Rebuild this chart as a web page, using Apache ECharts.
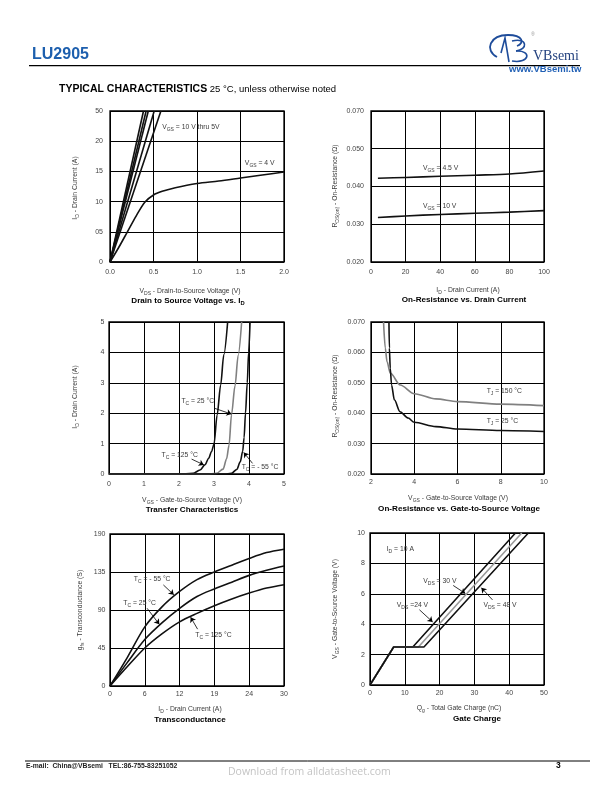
<!DOCTYPE html>
<html><head><meta charset="utf-8">
<script src="https://cdn.jsdelivr.net/npm/echarts@6/dist/echarts.min.js"></script>
<style>html,body{margin:0;padding:0;background:#fff}#c{width:612px;height:792px}</style>
</head><body><div id="c"></div>
<script>
// ---------------- data ----------------
// Chart 1: Drain to Source Voltage vs. ID
const c1XTicks = ['0.0','0.5','1.0','1.5','2.0'];
const c1YTicks = ['0','05','10','15','20','50'];
const c1Vgs10 = [[0,0],[0.385,25]];
const c1Vgs8  = [[0,0],[0.415,25]];
const c1Vgs7  = [[0,0],[0.44,25]];
const c1Vgs6  = [[0,0],[0.508,25]];
const c1Vgs5  = [[0,0],[0.585,25]];
const c1Vgs4  = [[0,0],[0.1,2.4],[0.2,5],[0.3,7.6],[0.4,9.9],[0.5,11.1],[0.6,11.7],[0.75,12.3],[1.0,13],[1.25,13.4],[1.5,13.9],[1.75,14.4],[2.0,14.9]];
const c1Vgs3  = [[0,0],[2.0,0]];
// Chart 2: On-Resistance vs. Drain Current
const c2XTicks = ['0','20','40','60','80','100'];
const c2YTicks = ['0.020','0.030','0.040','0.050','0.070'];
const c2Vgs45 = [[4,0.0422],[20,0.0424],[40,0.0427],[60,0.043],[80,0.0433],[100,0.0441]];
const c2Vgs10 = [[4,0.0318],[20,0.0322],[40,0.0326],[60,0.0329],[80,0.0332],[100,0.0336]];
// Chart 3: Transfer Characteristics
const c3XTicks = ['0','1','2','3','4','5'];
const c3YTicks = ['0','1','2','3','4','5'];
const c3Tc125 = [[0,0],[2.0,0],[2.4,0.02],[2.6,0.13],[2.74,0.3],[2.85,0.52],[2.93,0.74],[3.0,0.98],[3.09,1.95],[3.19,2.93],[3.28,3.92],[3.39,5]];
const c3Tc25  = [[0,0],[2.8,0],[3.07,0.02],[3.26,0.16],[3.36,0.5],[3.43,0.95],[3.5,1.95],[3.6,2.9],[3.69,3.9],[3.79,5]];
const c3TcM55 = [[0,0],[3.3,0],[3.5,0.02],[3.65,0.15],[3.75,0.4],[3.82,0.75],[3.86,1.2],[3.9,2.0],[3.95,3.0],[3.99,4.0],[4.03,5]];
// Chart 4: On-Resistance vs. Gate-to-Source Voltage
const c4XTicks = ['2','4','6','8','10'];
const c4YTicks = ['0.020','0.030','0.040','0.050','0.060','0.070'];
const c4Tj150 = [[2.58,0.07],[2.66,0.0614],[2.74,0.057],[2.89,0.0532],[3.35,0.0493],[4,0.0464],[5,0.0447],[6,0.0438],[8,0.043],[10,0.0425]];
const c4Tj25  = [[2.83,0.07],[2.85,0.0614],[2.89,0.0548],[2.95,0.0493],[3.08,0.0444],[3.34,0.0405],[3.72,0.0384],[4,0.037],[5,0.0356],[6,0.0348],[8,0.0343],[10,0.034]];
// Chart 5: Transconductance
const c5XTicks = ['0','6','12','19','24','30'];
const c5YTicks = ['0','45','90','135','190'];
const c5TcM55 = [[0,0],[3,34],[6,70],[9,94],[12,112],[15,126],[18,135],[21,143],[24,151],[27,158],[30,162]];
const c5Tc25  = [[0,0],[3,28],[6,55],[9,75],[12,92],[15,106],[18,115],[21,123],[24,131],[27,137],[30,142]];
const c5Tc125 = [[0,0],[3,23],[6,45],[9,62],[12,76],[15,86],[18,95],[21,103],[24,110],[27,116],[30,120]];
// Chart 6: Gate Charge
const c6XTicks = ['0','10','20','30','40','50'];
const c6YTicks = ['0','2','4','6','8','10'];
const c6Vds24 = [[0,0],[6.8,2.5],[12.3,2.5],[41.8,10]];
const c6Vds30 = [[0,0],[6.8,2.5],[13.9,2.5],[43.6,10]];
const c6Vds48 = [[0,0],[6.8,2.5],[15.5,2.5],[45.5,10]];

// ---------------- annotations ----------------
const sub = (a, s, b) => `{m|${a}}{s|${s}}` + (b ? `{m|${b}}` : '');
const c1Notes = [{at:[0.6,22.3], t:sub('V','GS',' = 10 V thru 5V')}, {at:[1.55,16.4], t:sub('V','GS',' = 4 V')}];
const c2Notes = [{at:[30,0.0449], t:sub('V','GS',' = 4.5 V')}, {at:[30,0.0348], t:sub('V','GS',' = 10 V')}];
const c3Notes = [{at:[2.07,2.41], t:sub('T','C',' = 25 °C')}, {at:[1.5,0.63], t:sub('T','C',' = 125 °C')}, {at:[3.79,0.21], t:sub('T','C',' = - 55 °C')}];
const c3Arrows = [[[3.02,2.16],[3.5,1.97]], [[2.36,0.49],[2.71,0.30]], [[4.1,0.35],[3.85,0.71]]];
const c4Notes = [{at:[7.35,0.0474], t:sub('T','J',' = 150 °C')}, {at:[7.35,0.0375], t:sub('T','J',' = 25 °C')}];
const c5Notes = [{at:[4.1,126.8], t:sub('T','C',' = - 55 °C')}, {at:[2.3,98], t:sub('T','C',' = 25 °C')}, {at:[14.7,60.6], t:sub('T','C',' = 125 °C')}];
const c5Arrows = [[[9.2,119.7],[11,108]], [[6.4,92],[8.5,73]], [[15.1,67.3],[13.9,81.5]]];
const c6Notes = [{at:[4.8,8.97], t:sub('I','D',' = 10 A')}, {at:[15.3,6.86], t:sub('V','DS',' = 30 V')}, {at:[7.7,5.27], t:sub('V','DS',' =24 V')}, {at:[32.6,5.27], t:sub('V','DS',' = 48 V')}];
const c6Arrows = [[[23.9,6.55],[27.4,6.02]], [[14.2,4.95],[18.0,4.15]], [[35.2,5.6],[32.0,6.4]]];

// ---------------- styling / build ----------------
const F = "'Liberation Sans', Arial, Helvetica, sans-serif";
const FN = "'Liberation Sans Narrow', 'Arial Narrow', 'Liberation Sans', sans-serif";
const TXT = '#3a3a3a';
const BLACK = '#111';
const GREY = '#808080';
const richL = {
  m: {fontSize: 6.8, lineHeight: 10, color: TXT, fontFamily: F},
  s: {fontSize: 5, lineHeight: 5, verticalAlign: 'bottom', color: TXT, fontFamily: F}
};
const richG = {
  m: {fontSize: 6.8, lineHeight: 10, fill: TXT, fontFamily: F},
  s: {fontSize: 5, lineHeight: 5, verticalAlign: 'bottom', fill: TXT, fontFamily: F},
  b: {fontSize: 8.1, lineHeight: 11, fill: '#000', fontFamily: FN, fontWeight: 'bold'},
  bs: {fontSize: 5.8, lineHeight: 6, verticalAlign: 'bottom', fill: '#000', fontFamily: FN, fontWeight: 'bold'}
};

const grids = [
  {left:110, top:111, width:174, height:151},
  {left:371, top:111, width:173, height:151},
  {left:109, top:322, width:175, height:152},
  {left:371, top:322, width:173, height:152},
  {left:110, top:534, width:174, height:152},
  {left:370, top:533, width:174, height:152}
].map(g => Object.assign({show:true, borderColor:'#000', borderWidth:1.3, containLabel:false, outerBoundsMode:'none'}, g));

function ax(idx, min, max, interval, labels, margin) {
  return {
    gridIndex: idx, type: 'value', min, max, interval,
    axisLine: {show: false}, axisTick: {show: false},
    splitLine: {show: true, lineStyle: {color: '#000', width: 1}},
    axisLabel: {fontSize: 7, color: '#444', fontFamily: F, margin,
      formatter: v => { const k = Math.round((v - min) / interval); return labels[k] !== undefined ? labels[k] : ''; }}
  };
}
const xAxes = [
  ax(0, 0, 2, 0.5, c1XTicks, 6.5),
  ax(1, 0, 100, 20, c2XTicks, 6.5),
  ax(2, 0, 5, 1, c3XTicks, 6.5),
  ax(3, 2, 10, 2, c4XTicks, 4.5),
  ax(4, 0, 30, 6, c5XTicks, 4.5),
  ax(5, 0, 50, 10, c6XTicks, 4.5)
];
const yAxes = [
  ax(0, 0, 25, 5, c1YTicks, 7),
  ax(1, 0.02, 0.06, 0.01, c2YTicks, 7),
  ax(2, 0, 5, 1, c3YTicks, 4.5),
  ax(3, 0.02, 0.07, 0.01, c4YTicks, 6),
  ax(4, 0, 180, 45, c5YTicks, 4.5),
  ax(5, 0, 10, 2, c6YTicks, 5)
];

// smooth: 0 = straight segments, 1 = plain smoothing, 2 = monotone-x smoothing
function line(idx, data, color, smooth) {
  const s = {type: 'line', xAxisIndex: idx, yAxisIndex: idx, data, showSymbol: false, symbol: 'none',
    smooth: smooth ? 0.3 : false,
    lineStyle: {color, width: 1.6}, silent: true, z: 3};
  if (smooth === 2) s.smoothMonotone = 'x';
  return s;
}
function addNotes(s, notes, arrows) {
  s.markPoint = {symbol: 'circle', symbolSize: 0, silent: true,
    label: {show: true, position: 'right', distance: 0, rich: richL},
    data: notes.map(n => ({coord: n.at, label: {show: true, position: 'right', distance: 0, formatter: n.t, rich: richL}}))};
  if (arrows) {
    s.markLine = {silent: true, symbol: ['none', 'arrow'], symbolSize: 5,
      lineStyle: {color: '#000', width: 0.8, type: 'solid'}, label: {show: false},
      emphasis: {disabled: true},
      data: arrows.map(a => [{coord: a[0]}, {coord: a[1]}])};
  }
  return s;
}

const series = [
  addNotes(line(0, c1Vgs10, BLACK, 0), c1Notes),
  line(0, c1Vgs8, BLACK, 0), line(0, c1Vgs7, BLACK, 0), line(0, c1Vgs6, BLACK, 0), line(0, c1Vgs5, BLACK, 0),
  line(0, c1Vgs4, BLACK, 1), line(0, c1Vgs3, BLACK, 0),
  addNotes(line(1, c2Vgs45, BLACK, 1), c2Notes), line(1, c2Vgs10, BLACK, 1),
  addNotes(line(2, c3Tc125, BLACK, 2), c3Notes, c3Arrows), line(2, c3Tc25, GREY, 2), line(2, c3TcM55, BLACK, 2),
  addNotes(line(3, c4Tj150, GREY, 2), c4Notes), line(3, c4Tj25, BLACK, 2),
  addNotes(line(4, c5TcM55, BLACK, 1), c5Notes, c5Arrows), line(4, c5Tc25, BLACK, 1), line(4, c5Tc125, BLACK, 1),
  addNotes(line(5, c6Vds24, BLACK, 0), c6Notes, c6Arrows), line(5, c6Vds30, '#9a9a9a', 0), line(5, c6Vds48, BLACK, 0)
];

// text outside the plots
function T(x, y, text, extra) {
  return Object.assign({type: 'text', x, y, silent: true,
    style: Object.assign({text, align: 'center', verticalAlign: 'middle', rich: richG}, extra || {})});
}
function TR(x, y, text) { const t = T(x, y, text); t.rotation = Math.PI / 2; return t; }
const graphics = [
  // header
  {type:'text', x:32, y:55, silent:true, style:{text:'LU2905', fontSize:16, fontWeight:'bold', fontFamily:F, fill:'#1d5fae', align:'left', verticalAlign:'middle'}},
  {type:'line', silent:true, shape:{x1:29, y1:65.7, x2:580, y2:65.7}, style:{stroke:'#000', lineWidth:1.3}},
  {type:'bezierCurve', silent:true, shape:{x1:497, y1:57, cpx1:484, cpy1:50, cpx2:490, cpy2:35, x2:508, y2:35}, style:{stroke:'#1e4c9a', lineWidth:1.8, fill:'none'}},
  {type:'bezierCurve', silent:true, shape:{x1:508, y1:35, cpx1:523, cpy1:35, cpx2:525, cpy2:43, x2:517, y2:46}, style:{stroke:'#1e4c9a', lineWidth:1.8, fill:'none'}},
  {type:'polyline', silent:true, shape:{points:[[501,53],[505,38],[509,62]]}, style:{stroke:'#1e4c9a', lineWidth:1.6, fill:'none'}},
  {type:'bezierCurve', silent:true, shape:{x1:512, y1:41, cpx1:528, cpy1:37, cpx2:528, cpy2:50, x2:516, y2:51}, style:{stroke:'#1e4c9a', lineWidth:1.6, fill:'none'}},
  {type:'bezierCurve', silent:true, shape:{x1:516, y1:51, cpx1:532, cpy1:50, cpx2:530, cpy2:64, x2:512, y2:61}, style:{stroke:'#1e4c9a', lineWidth:1.6, fill:'none'}},
  {type:'text', x:533, y:35, silent:true, style:{text:'®', fontSize:4.5, fontFamily:F, fill:'#888', align:'center', verticalAlign:'middle'}},
  {type:'text', x:533, y:56, silent:true, style:{text:'VBsemi', fontSize:14, fontFamily:"'Liberation Serif', 'DejaVu Serif', serif", fill:'#24427f', align:'left', verticalAlign:'middle'}},
  {type:'text', x:509, y:69.5, silent:true, style:{text:'www.VBsemi.tw', fontSize:9.5, fontWeight:'bold', fontFamily:F, fill:'#1f5fb5', align:'left', verticalAlign:'middle'}},
  {type:'text', x:59, y:89, silent:true, style:{text:'{h|TYPICAL CHARACTERISTICS}{n| 25 °C, unless otherwise noted}', align:'left', verticalAlign:'middle',
     rich:{h:{fontSize:10.5, fontWeight:'bold', fontFamily:F, fill:'#000'}, n:{fontSize:9.5, fontFamily:F, fill:'#000'}}}},
  // chart 1
  T(190, 291, sub('V','DS',' - Drain-to-Source Voltage (V)')),
  T(188, 301, '{b|Drain to Source Voltage vs. I}{bs|D}'),
  TR(75, 188, sub('I','D',' - Drain Current (A)')),
  // chart 2
  T(468, 290, sub('I','D',' - Drain Current (A)')),
  T(464, 300, '{b|On-Resistance vs. Drain Current}'),
  TR(335, 186, sub('R','DS(on)',' - On-Resistance (Ω)')),
  // chart 3
  T(192, 500, sub('V','GS',' - Gate-to-Source Voltage (V)')),
  T(192, 510, '{b|Transfer Characteristics}'),
  TR(75, 397, sub('I','D',' - Drain Current (A)')),
  // chart 4
  T(458, 498, sub('V','GS',' - Gate-to-Source Voltage (V)')),
  T(459, 509, '{b|On-Resistance vs. Gate-to-Source Voltage}'),
  TR(335, 396, sub('R','DS(on)',' - On-Resistance (Ω)')),
  // chart 5
  T(190, 709, sub('I','D',' - Drain Current (A)')),
  T(190, 720, '{b|Transconductance}'),
  TR(80, 610, sub('g','fs',' - Transconductance (S)')),
  // chart 6
  T(459, 708, sub('Q','g',' - Total Gate Charge (nC)')),
  T(477, 719, '{b|Gate Charge}'),
  TR(335, 609, sub('V','GS',' - Gate-to-Source Voltage (V)')),
  // footer
  {type:'line', silent:true, shape:{x1:25, y1:761, x2:590, y2:761}, style:{stroke:'#000', lineWidth:1}},
  {type:'text', x:26, y:766.5, silent:true, style:{text:'E-mail:  China@VBsemi   TEL:86-755-83251052', fontSize:6.8, fontWeight:'bold', fontFamily:F, fill:'#222', align:'left', verticalAlign:'middle'}},
  {type:'text', x:556, y:766, silent:true, style:{text:'3', fontSize:8.5, fontWeight:'bold', fontFamily:F, fill:'#000', align:'left', verticalAlign:'middle'}},
  {type:'text', x:228, y:772, silent:true, style:{text:'Download from alldatasheet.com', fontSize:10.5, fontFamily:"'Open Sans', 'Liberation Sans', sans-serif", fill:'#c4c4c4', align:'left', verticalAlign:'middle'}}
];

const chart = echarts.init(document.getElementById('c'), null, {renderer: 'canvas'});
chart.setOption({
  animation: false,
  backgroundColor: '#fff',
  grid: grids,
  xAxis: xAxes,
  yAxis: yAxes,
  series,
  graphic: graphics
});
</script></body></html>
